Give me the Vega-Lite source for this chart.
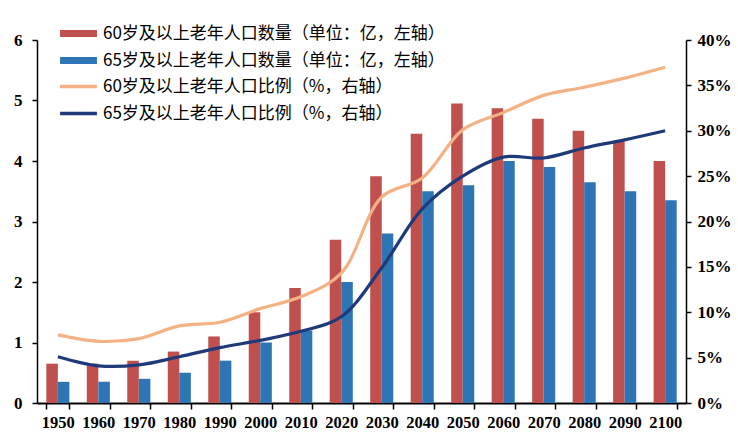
{
  "$schema": "https://vega.github.io/schema/vega-lite/v6.json",
  "width": 649,
  "height": 363,
  "autosize": {"type": "none"},
  "padding": {"left": 37, "top": 40, "right": 52, "bottom": 34},
  "background": "white",
  "config": {
    "view": {"stroke": null},
    "axis": {
      "labelFont": "Liberation Serif",
      "labelFontWeight": "bold",
      "labelFontSize": 17,
      "labelColor": "black",
      "domainColor": "black",
      "domainWidth": 1.5,
      "tickColor": "black",
      "tickWidth": 1.5,
      "grid": false,
      "title": null
    },
    "legend": {
      "labelFont": "Noto Sans CJK SC",
      "labelFontSize": 17,
      "labelColor": "black",
      "labelLimit": 500,
      "title": null
    }
  },
  "datasets": {
    "bars": [
      {"year": "1950", "series": "60岁及以上老年人口数量（单位：亿，左轴）", "value": 0.65},
      {"year": "1960", "series": "60岁及以上老年人口数量（单位：亿，左轴）", "value": 0.65},
      {"year": "1970", "series": "60岁及以上老年人口数量（单位：亿，左轴）", "value": 0.7},
      {"year": "1980", "series": "60岁及以上老年人口数量（单位：亿，左轴）", "value": 0.85},
      {"year": "1990", "series": "60岁及以上老年人口数量（单位：亿，左轴）", "value": 1.1},
      {"year": "2000", "series": "60岁及以上老年人口数量（单位：亿，左轴）", "value": 1.5},
      {"year": "2010", "series": "60岁及以上老年人口数量（单位：亿，左轴）", "value": 1.9},
      {"year": "2020", "series": "60岁及以上老年人口数量（单位：亿，左轴）", "value": 2.7},
      {"year": "2030", "series": "60岁及以上老年人口数量（单位：亿，左轴）", "value": 3.75},
      {"year": "2040", "series": "60岁及以上老年人口数量（单位：亿，左轴）", "value": 4.45},
      {"year": "2050", "series": "60岁及以上老年人口数量（单位：亿，左轴）", "value": 4.95},
      {"year": "2060", "series": "60岁及以上老年人口数量（单位：亿，左轴）", "value": 4.87},
      {"year": "2070", "series": "60岁及以上老年人口数量（单位：亿，左轴）", "value": 4.7},
      {"year": "2080", "series": "60岁及以上老年人口数量（单位：亿，左轴）", "value": 4.5},
      {"year": "2090", "series": "60岁及以上老年人口数量（单位：亿，左轴）", "value": 4.33},
      {"year": "2100", "series": "60岁及以上老年人口数量（单位：亿，左轴）", "value": 4.0},
      {"year": "1950", "series": "65岁及以上老年人口数量（单位：亿，左轴）", "value": 0.35},
      {"year": "1960", "series": "65岁及以上老年人口数量（单位：亿，左轴）", "value": 0.35},
      {"year": "1970", "series": "65岁及以上老年人口数量（单位：亿，左轴）", "value": 0.4},
      {"year": "1980", "series": "65岁及以上老年人口数量（单位：亿，左轴）", "value": 0.5},
      {"year": "1990", "series": "65岁及以上老年人口数量（单位：亿，左轴）", "value": 0.7},
      {"year": "2000", "series": "65岁及以上老年人口数量（单位：亿，左轴）", "value": 1.0},
      {"year": "2010", "series": "65岁及以上老年人口数量（单位：亿，左轴）", "value": 1.2},
      {"year": "2020", "series": "65岁及以上老年人口数量（单位：亿，左轴）", "value": 2.0},
      {"year": "2030", "series": "65岁及以上老年人口数量（单位：亿，左轴）", "value": 2.8},
      {"year": "2040", "series": "65岁及以上老年人口数量（单位：亿，左轴）", "value": 3.5},
      {"year": "2050", "series": "65岁及以上老年人口数量（单位：亿，左轴）", "value": 3.6},
      {"year": "2060", "series": "65岁及以上老年人口数量（单位：亿，左轴）", "value": 4.0},
      {"year": "2070", "series": "65岁及以上老年人口数量（单位：亿，左轴）", "value": 3.9},
      {"year": "2080", "series": "65岁及以上老年人口数量（单位：亿，左轴）", "value": 3.65},
      {"year": "2090", "series": "65岁及以上老年人口数量（单位：亿，左轴）", "value": 3.5},
      {"year": "2100", "series": "65岁及以上老年人口数量（单位：亿，左轴）", "value": 3.35}
    ],
    "lines": [
      {"year": "1950", "series": "60岁及以上老年人口比例（%，右轴）", "pct": 0.075},
      {"year": "1960", "series": "60岁及以上老年人口比例（%，右轴）", "pct": 0.068},
      {"year": "1970", "series": "60岁及以上老年人口比例（%，右轴）", "pct": 0.071},
      {"year": "1980", "series": "60岁及以上老年人口比例（%，右轴）", "pct": 0.085},
      {"year": "1990", "series": "60岁及以上老年人口比例（%，右轴）", "pct": 0.089},
      {"year": "2000", "series": "60岁及以上老年人口比例（%，右轴）", "pct": 0.104},
      {"year": "2010", "series": "60岁及以上老年人口比例（%，右轴）", "pct": 0.117},
      {"year": "2020", "series": "60岁及以上老年人口比例（%，右轴）", "pct": 0.143},
      {"year": "2030", "series": "60岁及以上老年人口比例（%，右轴）", "pct": 0.227},
      {"year": "2040", "series": "60岁及以上老年人口比例（%，右轴）", "pct": 0.248},
      {"year": "2050", "series": "60岁及以上老年人口比例（%，右轴）", "pct": 0.301},
      {"year": "2060", "series": "60岁及以上老年人口比例（%，右轴）", "pct": 0.32},
      {"year": "2070", "series": "60岁及以上老年人口比例（%，右轴）", "pct": 0.339},
      {"year": "2080", "series": "60岁及以上老年人口比例（%，右轴）", "pct": 0.348},
      {"year": "2090", "series": "60岁及以上老年人口比例（%，右轴）", "pct": 0.358},
      {"year": "2100", "series": "60岁及以上老年人口比例（%，右轴）", "pct": 0.37},
      {"year": "1950", "series": "65岁及以上老年人口比例（%，右轴）", "pct": 0.051},
      {"year": "1960", "series": "65岁及以上老年人口比例（%，右轴）", "pct": 0.041},
      {"year": "1970", "series": "65岁及以上老年人口比例（%，右轴）", "pct": 0.042},
      {"year": "1980", "series": "65岁及以上老年人口比例（%，右轴）", "pct": 0.051},
      {"year": "1990", "series": "65岁及以上老年人口比例（%，右轴）", "pct": 0.061},
      {"year": "2000", "series": "65岁及以上老年人口比例（%，右轴）", "pct": 0.069},
      {"year": "2010", "series": "65岁及以上老年人口比例（%，右轴）", "pct": 0.079},
      {"year": "2020", "series": "65岁及以上老年人口比例（%，右轴）", "pct": 0.095},
      {"year": "2030", "series": "65岁及以上老年人口比例（%，右轴）", "pct": 0.149},
      {"year": "2040", "series": "65岁及以上老年人口比例（%，右轴）", "pct": 0.214},
      {"year": "2050", "series": "65岁及以上老年人口比例（%，右轴）", "pct": 0.25},
      {"year": "2060", "series": "65岁及以上老年人口比例（%，右轴）", "pct": 0.271},
      {"year": "2070", "series": "65岁及以上老年人口比例（%，右轴）", "pct": 0.27},
      {"year": "2080", "series": "65岁及以上老年人口比例（%，右轴）", "pct": 0.281},
      {"year": "2090", "series": "65岁及以上老年人口比例（%，右轴）", "pct": 0.29},
      {"year": "2100", "series": "65岁及以上老年人口比例（%，右轴）", "pct": 0.3}
    ]
  },
  "encoding": {
    "x": {
      "field": "year",
      "type": "ordinal",
      "scale": {"paddingInner": 0.43, "paddingOuter": 0.23},
      "axis": {"labelAngle": 0, "tickBand": "extent", "tickSize": 6, "labelPadding": 5, "domainWidth": 2, "labelFont": "Liberation Serif", "labelFontWeight": "bold", "labelFontSize": 16.5}
    }
  },
  "layer": [
    {
      "data": {"name": "bars"},
      "mark": {"type": "bar"},
      "encoding": {
        "xOffset": {"field": "series", "type": "nominal", "scale": {"paddingInner": 0, "paddingOuter": 0}},
        "y": {
          "field": "value",
          "type": "quantitative",
          "scale": {"domain": [0, 6], "nice": false},
          "axis": {"values": [0, 1, 2, 3, 4, 5, 6], "format": "d", "tickSize": 5, "labelPadding": 10, "labelFont": "Liberation Serif", "labelFontWeight": "bold"}
        },
        "color": {
          "field": "series",
          "type": "nominal",
          "scale": {"range": ["#C0504D", "#2E75B6"]},
          "legend": {
            "orient": "none",
            "legendX": 33,
            "legendY": -15,
            "symbolType": "M-4.1,-0.8H4.1V0.8H-4.1Z",
            "symbolSize": 81,
            "symbolStrokeWidth": 0,
            "labelOffset": 16,
            "rowPadding": 9
          }
        }
      }
    },
    {
      "data": {"name": "lines"},
      "mark": {"type": "line", "interpolate": "catmull-rom", "strokeWidth": 3.2},
      "encoding": {
        "y": {
          "field": "pct",
          "type": "quantitative",
          "scale": {"domain": [0, 0.4], "nice": false},
          "axis": {"orient": "right", "values": [0, 0.05, 0.1, 0.15, 0.2, 0.25, 0.3, 0.35, 0.4], "format": ".0%", "tickSize": 5, "labelPadding": 6, "labelFont": "Liberation Serif", "labelFontWeight": "bold"}
        },
        "stroke": {
          "field": "series",
          "type": "nominal",
          "scale": {"range": ["#F4B183", "#1F3A7A"]},
          "legend": {
            "orient": "none",
            "legendX": 33,
            "legendY": 38,
            "symbolType": "M-4.1,0H4.1",
            "symbolSize": 81,
            "symbolStrokeWidth": 3.5,
            "labelOffset": 16,
            "rowPadding": 9
          }
        }
      }
    }
  ],
  "resolve": {"scale": {"y": "independent"}, "legend": {"color": "independent", "stroke": "independent"}}
}
